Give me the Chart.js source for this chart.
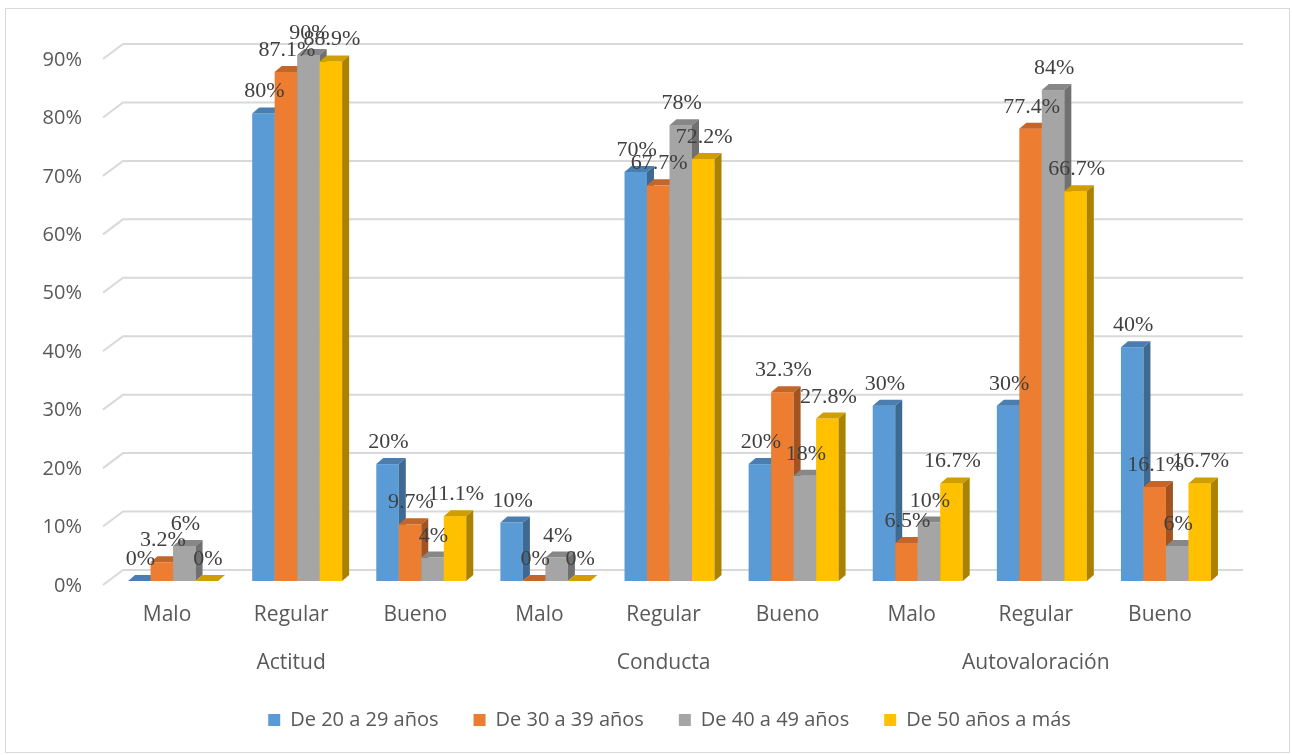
<!DOCTYPE html>
<html>
<head>
<meta charset="utf-8">
<script src="https://cdn.jsdelivr.net/npm/chart.js@4.4.0/dist/chart.umd.min.js"></script>
<style>
  html, body { margin: 0; padding: 0; background: #fff; }
  #wrap { width: 1292px; height: 755px; }
</style>
</head>
<body>
<div id="wrap"><canvas id="myChart"></canvas></div>
<script>
// data
var categories = ["Malo", "Regular", "Bueno", "Malo", "Regular", "Bueno", "Malo", "Regular", "Bueno"];
var groups = ["Actitud", "Conducta", "Autovaloración"];
var seriesNames = ["De 20 a 29 años", "De 30 a 39 años", "De 40 a 49 años", "De 50 años a más"];
var age20 = [0, 80, 20, 10, 70, 20, 30, 30, 40];
var age30 = [3.2, 87.1, 9.7, 0, 67.7, 32.3, 6.5, 77.4, 16.1];
var age40 = [6, 90, 4, 4, 78, 18, 10, 84, 6];
var age50 = [0, 88.9, 11.1, 0, 72.2, 27.8, 16.7, 66.7, 16.7];
var yTicks = [0, 10, 20, 30, 40, 50, 60, 70, 80, 90];

var frontCol = ["#5B9BD5", "#ED7D31", "#A5A5A5", "#FFC000"];
var topCol = ["#4A7EB0", "#C4652A", "#878787", "#D19E00"];
var sideCol = ["#3E6A92", "#A2531F", "#707070", "#AB8100"];
var DX = 7, DY = 6; // bar depth

var bars3d = {
    id: 'bars3d',
    beforeDraw: function (chart) {
        var ctx = chart.ctx;
        ctx.save();
        ctx.fillStyle = "#fff";
        ctx.fillRect(0, 0, chart.width, chart.height);
        ctx.strokeStyle = "#d9d9d9";
        ctx.lineWidth = 1;
        ctx.strokeRect(5.5, 8.5, chart.width - 8, chart.height - 11);
        ctx.restore();
    },
    beforeDatasetsDraw: function (chart) {
        var ctx = chart.ctx, ca = chart.chartArea, y = chart.scales.y;
        ctx.save();
        // 3d grid: slanted stub on the left wall + back line
        ctx.strokeStyle = "#d9d9d9";
        ctx.lineWidth = 2;
        yTicks.forEach(function (v) {
            var py = y.getPixelForValue(v);
            ctx.beginPath();
            ctx.moveTo(ca.left - 8, py + 4);
            ctx.lineTo(ca.left + 12, py - 11);
            ctx.lineTo(ca.right + 15, py - 11);
            ctx.stroke();
        });
        // bars, category by category so the sides overlap right
        var nSets = chart.data.datasets.length;
        for (var i = 0; i < chart.data.labels.length; i++) {
            for (var d = 0; d < nSets; d++) {
                var bar = chart.getDatasetMeta(d).data[i];
                var l = bar.x - bar.width / 2, r = bar.x + bar.width / 2, t = bar.y, b = bar.base;
                ctx.fillStyle = frontCol[d];
                ctx.fillRect(l, t, r - l, b - t);
                ctx.fillStyle = topCol[d];
                ctx.beginPath();
                ctx.moveTo(l, t); ctx.lineTo(l + DX, t - DY); ctx.lineTo(r + DX, t - DY); ctx.lineTo(r, t);
                ctx.closePath(); ctx.fill();
                ctx.fillStyle = sideCol[d];
                ctx.beginPath();
                ctx.moveTo(r, t); ctx.lineTo(r + DX, t - DY); ctx.lineTo(r + DX, b - DY); ctx.lineTo(r, b);
                ctx.closePath(); ctx.fill();
            }
        }
        // value labels
        ctx.font = '22px "Liberation Serif", "Times New Roman", serif';
        ctx.fillStyle = "#404040";
        ctx.textAlign = "center";
        ctx.textBaseline = "alphabetic";
        for (var d2 = 0; d2 < nSets; d2++) {
            var vals = chart.data.datasets[d2].data;
            chart.getDatasetMeta(d2).data.forEach(function (bar, k) {
                ctx.fillText(vals[k] + "%", bar.x + 1, bar.y - 16);
            });
        }
        ctx.restore();
        return false;
    }
};

var allSeries = [age20, age30, age40, age50];
var datasets = allSeries.map(function (arr, k) {
    return {
        label: seriesNames[k],
        data: arr,
        backgroundColor: frontCol[k],
        borderWidth: 0,
        xAxisID: 'x'
    };
});

new Chart(document.getElementById("myChart"), {
    type: "bar",
    data: { labels: categories, datasets: datasets },
    plugins: [bars3d],
    options: {
        responsive: true,
        maintainAspectRatio: false,
        animation: false,
        devicePixelRatio: 1,
        categoryPercentage: 0.725,
        barPercentage: 1,
        layout: { padding: { top: 55, right: 64, left: 0, bottom: 15 } },
        scales: {
            x: {
                weight: 0,
                grid: { display: false, drawTicks: false },
                border: { display: false },
                afterFit: function (s) { s.height = 47; },
                ticks: { padding: 21, labelOffset: -6, color: "#595959", font: { family: "Open Sans", size: 21 } }
            },
            x2: {
                type: "category",
                labels: groups,
                position: "bottom",
                weight: 1,
                offset: true,
                grid: { display: false, drawTicks: false },
                border: { display: false },
                afterFit: function (s) { s.height = 47; },
                ticks: { padding: 22, labelOffset: -6, color: "#595959", font: { family: "Open Sans", size: 21 } }
            },
            y: {
                min: 0,
                max: 90,
                grid: { display: false, drawTicks: false },
                border: { display: false },
                afterFit: function (s) { s.width = 111; },
                ticks: {
                    stepSize: 10,
                    padding: 29,
                    labelOffset: 5,
                    color: "#595959",
                    font: { family: "Open Sans", size: 20 },
                    callback: function (v) { return v + "%"; }
                }
            }
        },
        plugins: {
            tooltip: { enabled: false },
            legend: {
                position: "bottom",
                fullSize: false,
                labels: {
                    boxWidth: 12,
                    boxHeight: 12,
                    padding: 35,
                    color: "#595959",
                    font: { family: "Open Sans", size: 20 }
                }
            }
        }
    }
});
</script>
</body>
</html>
